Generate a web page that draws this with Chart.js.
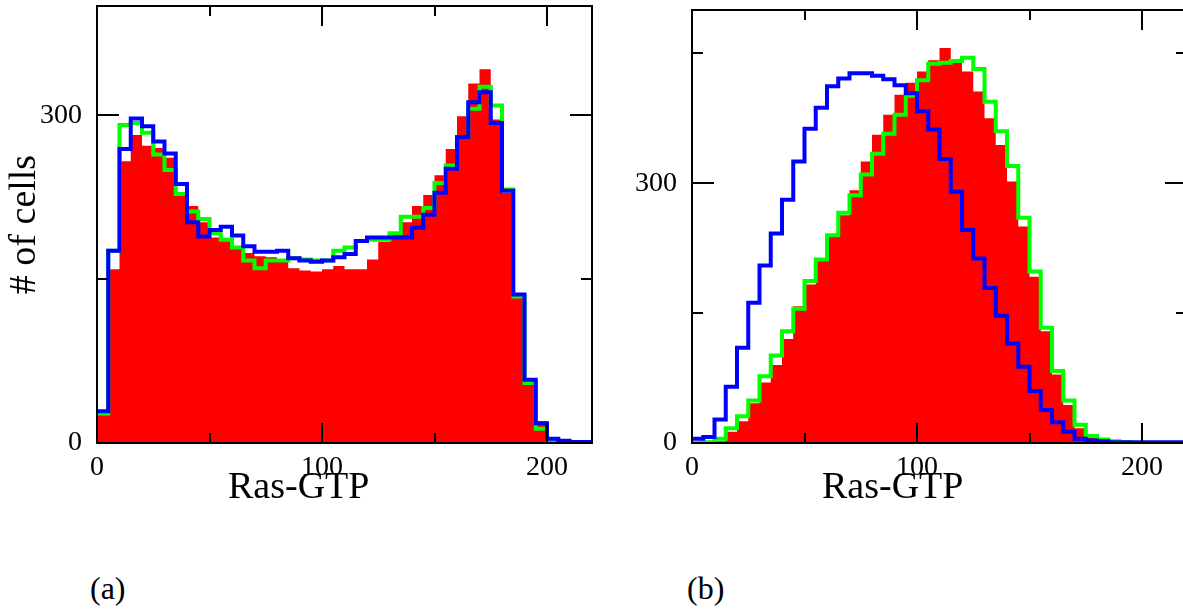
<!DOCTYPE html>
<html>
<head>
<meta charset="utf-8">
<title>Ras-GTP histograms</title>
<script src="https://cdn.jsdelivr.net/npm/chart.js@4.4.0/dist/chart.umd.min.js"></script>
<style>
  html, body { margin: 0; padding: 0; background: #fff; overflow: hidden; width: 1183px; height: 615px; }
  body { position: relative; font-family: "Liberation Serif", "Times New Roman", serif; color: #000; }
  canvas { position: absolute; top: 0; }
  #chartA { left: 0; }
  #chartB { left: 600px; }
  .axis-title { position: absolute; top: 466px; font-size: 38px; line-height: 1; white-space: nowrap; }
  .panel-label { position: absolute; top: 572px; font-size: 32px; line-height: 1; }
</style>
</head>
<body>
<canvas id="chartA" width="600" height="520"></canvas>
<canvas id="chartB" width="600" height="520"></canvas>
<div class="axis-title" style="left:228px">Ras-GTP</div>
<div class="axis-title" style="left:822px">Ras-GTP</div>
<div class="panel-label" style="left:90px">(a)</div>
<div class="panel-label" style="left:687px">(b)</div>
<script>
// histogram bins: 5 units wide, starting at 0
const binWidth = 5;
const xMin = 0;
const xMax = 220;

const xTicks = [0, 100, 200];
const xMinorTicks = [50, 150];

// panel (a)
const yMaxA = 400;
const yTicksA = [0, 300];
const yMinorTicksA = [150];
const redA = [26, 159, 258, 282, 272, 270, 261, 229, 217, 202,
              188, 185, 180, 174, 171, 170, 166, 160, 158, 157,
              159, 162, 159, 159, 168, 184, 192, 202, 217, 227,
              245, 269, 299, 329, 342, 296, 229, 133, 55, 20,
              2, 0, 0, 0];
const greenA = [27, 176, 291, 293, 284, 264, 250, 228, 212, 205,
                192, 186, 179, 167, 160, 167, 167, 169, 168, 167,
                167, 176, 179, 185, 186, 186, 192, 207, 207, 215,
                238, 254, 280, 306, 326, 309, 232, 134, 55, 13,
                3, 1, 1, 1];
const blueA = [29, 176, 269, 297, 290, 276, 265, 237, 202, 189,
               195, 198, 190, 180, 175, 175, 176, 169, 167, 166,
               167, 170, 173, 185, 188, 188, 188, 188, 197, 209,
               229, 251, 280, 312, 321, 293, 231, 136, 58, 18,
               4, 2, 1, 1];

// panel (b)
const yMaxB = 500;
const yTicksB = [0, 300];
const yMinorTicksB = [150, 450];
const redB = [0, 0, 2, 13, 25, 46, 70, 90, 120, 158,
              183, 211, 238, 263, 292, 325, 356, 379, 402, 416,
              429, 442, 456, 443, 429, 406, 375, 344, 302, 250,
              192, 129, 79, 44, 17, 6, 2, 0, 0, 0,
              0, 0, 0, 0];
const greenB = [0, 1, 5, 17, 31, 49, 77, 101, 129, 155,
                187, 212, 240, 266, 286, 310, 334, 357, 379, 401,
                419, 438, 439, 441, 445, 432, 394, 360, 320, 260,
                198, 133, 83, 49, 21, 8, 4, 2, 1, 0,
                0, 0, 0, 0];
const blueB = [5, 7, 27, 65, 110, 162, 205, 242, 281, 325,
               363, 387, 412, 421, 427, 427, 424, 420, 413, 404,
               383, 362, 328, 290, 246, 213, 179, 147, 115, 88,
               60, 38, 24, 13, 5, 3, 2, 1, 1, 1,
               1, 1, 1, 1];

const fontFamily = '"Liberation Serif", "Times New Roman", serif';

// each count holds from the bin's left edge to the next edge
function stepPoints(values) {
    const pts = values.map((v, i) => ({ x: xMin + i * binWidth, y: v }));
    pts.push({ x: xMin + values.length * binWidth, y: values[values.length - 1] });
    return pts;
}

// box around the plot with inward ticks on all four sides
const frameTicks = {
    id: "frameTicks",
    afterDraw(chart, args, opts) {
        const ctx = chart.ctx;
        const a = chart.chartArea;
        const x = chart.scales.x;
        const y = chart.scales.y;
        ctx.save();
        ctx.strokeStyle = "#000";
        ctx.lineWidth = 2;
        ctx.lineCap = "butt";
        function seg(x1, y1, x2, y2) {
            ctx.beginPath();
            ctx.moveTo(x1, y1);
            ctx.lineTo(x2, y2);
            ctx.stroke();
        }
        function xMarks(vals, len) {
            vals.forEach(v => {
                const px = Math.round(x.getPixelForValue(v));
                seg(px, a.bottom, px, a.bottom - len);
                seg(px, a.top, px, a.top + len);
            });
        }
        function yMarks(vals, len) {
            vals.forEach(v => {
                const py = Math.round(y.getPixelForValue(v));
                seg(a.left, py, a.left + len, py);
                seg(a.right, py, a.right - len, py);
            });
        }
        xMarks(opts.xMajor, 20);
        xMarks(opts.xMinor, 10);
        yMarks(opts.yMajor, 22);
        yMarks(opts.yMinor, 11);
        ctx.strokeRect(a.left, a.top, a.right - a.left, a.bottom - a.top);
        ctx.restore();
    }
};

function makeChart(id, red, green, blue, yMax, yTicks, yMinor, axisWidth, pad, yTitle) {
    const ctx = document.getElementById(id).getContext("2d");
    return new Chart(ctx, {
        type: "line",
        data: {
            datasets: [
                {
                    label: "blue",
                    data: stepPoints(blue),
                    borderColor: "#0000ff",
                    borderWidth: 4,
                    stepped: true,
                    fill: false,
                    pointRadius: 0
                },
                {
                    label: "green",
                    data: stepPoints(green),
                    borderColor: "#00ff00",
                    borderWidth: 4,
                    stepped: true,
                    fill: false,
                    pointRadius: 0
                },
                {
                    label: "red",
                    data: stepPoints(red),
                    borderColor: "#ff0000",
                    backgroundColor: "#ff0000",
                    borderWidth: 0,
                    stepped: true,
                    fill: "origin",
                    pointRadius: 0
                }
            ]
        },
        options: {
            responsive: false,
            animation: false,
            events: [],
            layout: { padding: pad },
            plugins: {
                legend: { display: false },
                tooltip: { enabled: false },
                frameTicks: { xMajor: xTicks, xMinor: xMinorTicks, yMajor: yTicks, yMinor: yMinor }
            },
            scales: {
                x: {
                    type: "linear",
                    min: xMin,
                    max: xMax,
                    grid: { display: false },
                    border: { display: false },
                    ticks: {
                        color: "#000",
                        padding: 3,
                        maxRotation: 0,
                        font: { family: fontFamily, size: 28, lineHeight: 1 }
                    },
                    afterBuildTicks: scale => { scale.ticks = xTicks.map(v => ({ value: v })); },
                    afterFit: scale => {
                        scale.height = 520 - 443 - pad.bottom;
                        scale.paddingLeft = 0;
                        scale.paddingRight = 0;
                    }
                },
                y: {
                    type: "linear",
                    min: 0,
                    max: yMax,
                    grid: { display: false },
                    border: { display: false },
                    title: {
                        display: !!yTitle,
                        text: yTitle || "",
                        color: "#000",
                        padding: { top: 6, bottom: 0 },
                        font: { family: fontFamily, size: 38, lineHeight: 1 }
                    },
                    ticks: {
                        color: "#000",
                        padding: 7,
                        font: { family: fontFamily, size: 28, lineHeight: 1 }
                    },
                    afterBuildTicks: scale => { scale.ticks = yTicks.map(v => ({ value: v })); },
                    afterFit: scale => {
                        scale.width = axisWidth;
                        scale.paddingTop = 0;
                        scale.paddingBottom = 0;
                    }
                }
            }
        },
        plugins: [frameTicks]
    });
}

makeChart("chartA", redA, greenA, blueA, yMaxA, yTicksA, yMinorTicksA, 97,
          { top: 6, right: 8, bottom: 0, left: 0 }, "# of cells");
makeChart("chartB", redB, greenB, blueB, yMaxB, yTicksB, yMinorTicksB, 92,
          { top: 10, right: 13, bottom: 0, left: 0 }, null);
</script>
</body>
</html>
